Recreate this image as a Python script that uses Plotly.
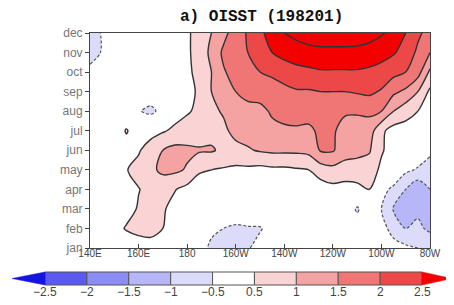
import plotly.graph_objects as go

# ---------------- data ----------------
lons = [140, 145, 150, 155, 160, 165, 170, 175, 180, 185, 190, 195, 200, 205, 210,
        215, 220, 225, 230, 235, 240, 245, 250, 255, 260, 265, 270, 275, 280]
months = ["jan", "feb", "mar", "apr", "may", "jun", "jul", "aug", "sep", "oct", "nov", "dec"]
xtick_vals = [140, 160, 180, 200, 220, 240, 260, 280]
xtick_text = ["140E", "160E", "180", "160W", "140W", "120W", "100W", "80W"]

jan = [0, 0, 0, 0.1, 0.15, 0.2, 0, 0, 0, -0.4, -0.55, -0.6, -0.7, -0.55, -0.3, -0.2, 0, 0, 0, 0, 0, 0, 0, -0.1, -0.1, -0.3, -0.4, -0.5, -0.6]
feb = [0, 0, 0.3, 0.55, 0.7, 0.75, 0.5, 0.1, 0, -0.2, -0.45, -0.5, -0.6, -0.55, -0.55, -0.3, 0, 0, 0, 0, 0.05, 0, -0.1, -0.1, -0.3, -0.7, -1.0, -0.9, -1.1]
mar = [0, 0, 0, 0.3, 0.55, 0.7, 0.55, 0.35, 0.1, 0, 0, -0.1, -0.1, -0.1, 0, 0, 0, 0, 0, 0.05, 0.1, 0.05, -0.6, 0, -0.5, -1.05, -1.25, -1.1, -1.0]
apr = [0, 0, 0, 0.2, 0.48, 0.65, 0.7, 0.52, 0.35, 0.1, 0.05, 0, 0, 0.05, 0.05, 0.05, 0.1, 0.1, 0.15, 0.25, 0.35, 0.3, 0.4, 0.5, -0.35, -0.6, -1.0, -1.4, -1.0]
may = [0, 0, 0, 0.48, 0.65, 0.9, 1.1, 1.1, 0.95, 0.6, 0.5, 0.45, 0.4, 0.4, 0.35, 0.4, 0.4, 0.45, 0.5, 0.75, 0.85, 0.8, 0.7, 0.75, 0.4, -0.1, -0.4, -0.55, -0.6]
jun = [0, 0, 0, 0.25, 0.45, 0.75, 1.0, 1.15, 1.1, 1.05, 1.05, 0.9, 0.85, 0.95, 1.05, 1.1, 1.1, 1.1, 1.15, 1.55, 1.55, 1.2, 1.2, 1.05, 0.55, 0.3, -0.05, -0.2, -0.45]
jul = [0, 0, 0.1, 0.55, 0.15, 0.3, 0.45, 0.6, 0.7, 0.75, 0.85, 0.9, 1.15, 1.2, 1.3, 1.4, 1.45, 1.45, 1.45, 1.55, 1.6, 1.2, 1.3, 1.25, 0.6, 0.3, 0.3, 0.1, -0.3]
aug = [0, 0, 0, 0, -0.45, -0.65, -0.3, 0.3, 0.45, 0.6, 0.9, 1.05, 1.3, 1.4, 1.4, 1.55, 1.6, 1.65, 1.6, 1.6, 1.65, 1.6, 1.55, 1.6, 1.5, 1.0, 0.7, 0.5, 0.0]
sep = [0, 0, 0, 0, 0, -0.1, 0, 0.25, 0.4, 0.55, 1.0, 1.25, 1.5, 1.6, 1.65, 1.75, 1.85, 1.95, 1.95, 2.0, 2.0, 2.0, 2.05, 2.1, 1.95, 1.6, 1.4, 1.0, 0.4]
oct = [-0.3, -0.1, 0, 0, 0, 0, 0.05, 0.25, 0.4, 0.65, 1.0, 1.45, 1.7, 1.8, 2.0, 2.1, 2.25, 2.35, 2.4, 2.45, 2.45, 2.45, 2.45, 2.4, 2.3, 2.15, 2.0, 1.7, 0.9]
nov = [-0.8, -0.45, 0, 0, 0, 0, 0.1, 0.25, 0.4, 0.75, 1.1, 1.6, 1.75, 2.0, 2.2, 2.5, 2.65, 2.75, 2.8, 2.85, 2.85, 2.85, 2.85, 2.8, 2.7, 2.55, 2.3, 1.9, 1.5]
dec = [-0.8, -0.45, 0, 0, 0, 0, 0.1, 0.25, 0.42, 0.7, 1.0, 1.35, 1.75, 2.05, 2.4, 2.7, 3.0, 3.15, 3.3, 3.35, 3.35, 3.35, 3.3, 3.2, 3.05, 2.85, 2.5, 2.1, 1.8]

z = [jan, feb, mar, apr, may, jun, jul, aug, sep, oct, nov, dec]

cb_levels = [-2.5, -2, -1.5, -1, -0.5, 0.5, 1, 1.5, 2, 2.5]
cb_colors = ["#1414dc", "#5a5af0", "#8c8cf5", "#b6b6f8", "#dcdcfa", "#ffffff",
             "#fad4d4", "#f4a2a2", "#f07676", "#ec4848", "#f50000"]

# ---------------- geometry ----------------
# the page body adds an 8px margin at top-left, so the figure is 8px smaller
OFF = 8
PW, PH = 454, 305
W, H = PW - OFF, PH - OFF
L, R, T, B = 90, 430, 33, 248  # plot area in page pixels


def xp(px):
    return (px - L) / (R - L)


def yp(py):
    return (B - py) / (B - T)


# stepped colour scale: 12 equal bands (white counted twice for -0.5..0 and 0..0.5)
band_cols = cb_colors[:6] + [cb_colors[5]] + cb_colors[6:]
cs = []
n = len(band_cols)
for i, c in enumerate(band_cols):
    cs.append([i / n, c])
    cs.append([(i + 1) / n, c])

yidx = list(range(len(months)))

fig = go.Figure()
fig.add_trace(go.Contour(
    x=lons, y=yidx, z=z,
    contours=dict(start=-2.5, end=2.5, size=0.5, coloring="fill", showlines=False),
    colorscale=cs, showscale=False, line=dict(width=0, smoothing=0.9),
    hoverinfo="skip"))
fig.add_trace(go.Contour(
    x=lons, y=yidx, z=z,
    contours=dict(start=0.5, end=3.0, size=0.5, coloring="none"),
    line=dict(color="#333333", width=1.4, smoothing=0.9),
    showscale=False, hoverinfo="skip"))
fig.add_trace(go.Contour(
    x=lons, y=yidx, z=z,
    contours=dict(start=-2.5, end=-0.5, size=0.5, coloring="none"),
    line=dict(color="#555555", width=1.2, dash="3px,2px", smoothing=0.9),
    showscale=False, hoverinfo="skip"))

# ---------------- colour bar (drawn) ----------------
shapes = []
x0, x1 = 45, 422
step = (x1 - x0) / (len(cb_levels) - 1)
cy0, cy1 = 272, 285
for i in range(len(cb_levels) - 1):
    shapes.append(dict(type="rect", xref="paper", yref="paper",
                       x0=xp(x0 + i * step), x1=xp(x0 + (i + 1) * step),
                       y0=yp(cy1), y1=yp(cy0),
                       fillcolor=cb_colors[i + 1], line=dict(color="#555555", width=1)))
ym = (cy0 + cy1) / 2
shapes.append(dict(type="path", xref="paper", yref="paper",
                   path=f"M {xp(x0)},{yp(cy0)} L {xp(12)},{yp(ym)} L {xp(x0)},{yp(cy1)} Z",
                   fillcolor=cb_colors[0], line=dict(color=cb_colors[0], width=0.5)))
shapes.append(dict(type="path", xref="paper", yref="paper",
                   path=f"M {xp(x1)},{yp(cy0)} L {xp(452)},{yp(ym)} L {xp(x1)},{yp(cy1)} Z",
                   fillcolor=cb_colors[-1], line=dict(color=cb_colors[-1], width=0.5)))

annotations = []
for i, lv in enumerate(cb_levels):
    txt = ("%g" % lv).replace("-", "\u2212")
    annotations.append(dict(x=xp(x0 + i * step), y=yp(292), xref="paper", yref="paper",
                            text=txt, showarrow=False, xanchor="center", yanchor="middle",
                            font=dict(family="Liberation Sans, Arial, sans-serif",
                                      size=12, color="#444444")))
annotations.append(dict(x=xp(261), y=yp(17), xref="paper", yref="paper",
                        text="<b>a) OISST (198201)</b>", showarrow=False,
                        xanchor="center", yanchor="middle",
                        font=dict(family="Liberation Mono, Courier New, monospace", size=16, color="#111111")))

fig.update_layout(
    width=W, height=H,
    margin=dict(l=L - OFF, r=PW - R, t=T - OFF, b=PH - B),
    paper_bgcolor="white", plot_bgcolor="white",
    showlegend=False, shapes=shapes, annotations=annotations,
    xaxis=dict(range=[140, 280], tickvals=xtick_vals, ticktext=xtick_text,
               ticks="inside", ticklen=4, tickcolor="#444", showgrid=False, zeroline=False,
               showline=True, linecolor="#444", linewidth=1, mirror=True, ticklabelstandoff=-4,
               tickfont=dict(family="Liberation Sans Narrow, Liberation Sans, Arial", size=10, color="#444")),
    yaxis=dict(range=[0, 11], tickvals=yidx, ticktext=months,
               ticks="outside", ticklen=4, tickcolor="#444", showgrid=False, zeroline=False,
               showline=True, linecolor="#444", linewidth=1, mirror=True,
               tickfont=dict(family="Liberation Sans, Arial", size=12, color="#777")),
)

fig.write_html("out.html")
